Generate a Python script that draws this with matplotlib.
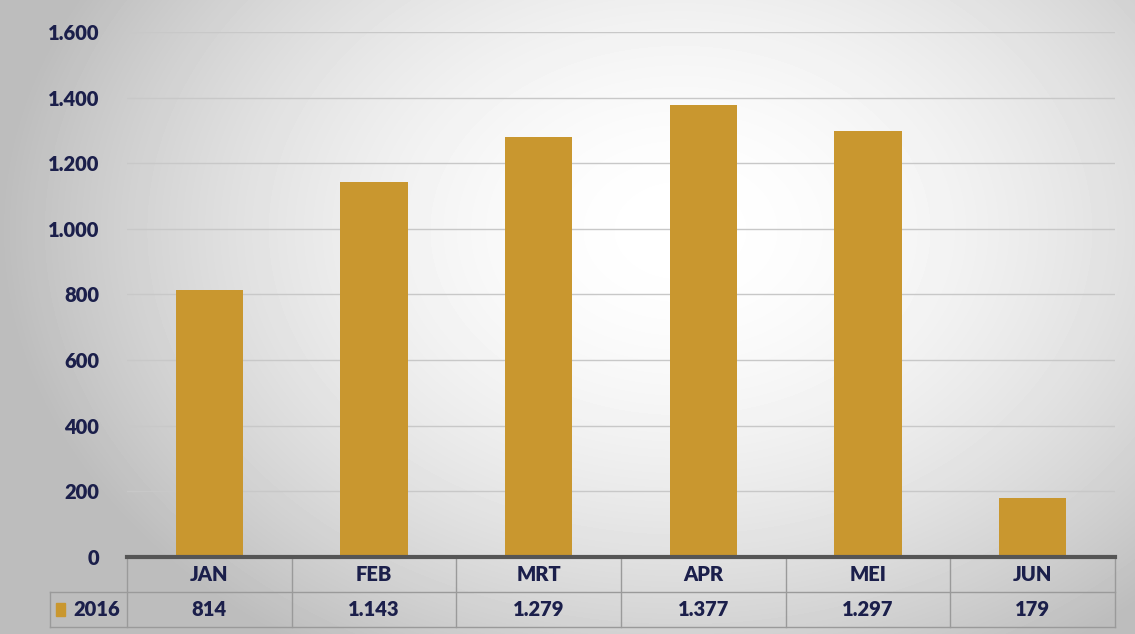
import numpy as np
import matplotlib.pyplot as plt
from matplotlib.patches import Rectangle

months = ['JAN', 'FEB', 'MRT', 'APR', 'MEI', 'JUN']
values_2016 = [814, 1143, 1279, 1377, 1297, 179]
series_name = '2016'
y_ticks = [0, 200, 400, 600, 800, 1000, 1200, 1400, 1600]

bar_color = '#C9972F'
text_color = '#1B1F4B'
plt.rcParams['font.family'] = ['Lato', 'DejaVu Sans']
fs = 14.5
fw = 'heavy'


def dutch(v):
    return f'{v:,}'.replace(',', '.')


fig = plt.figure(figsize=(11.35, 6.34), dpi=100)

# soft radial background, white in the middle, grey toward the edges
bg = fig.add_axes([0, 0, 1, 1], zorder=-10)
yy, xx = np.mgrid[0:634, 0:1135]
r = np.sqrt(((xx - 680) / 650.0) ** 2 + ((yy - 230) / 480.0) ** 2)
shade = np.clip(1.0 - 0.24 * r ** 1.8, 0.74, 1.0)
bg.imshow(shade, cmap='gray', vmin=0, vmax=1, aspect='auto')
bg.axis('off')

ax = fig.add_axes([0.1119, 0.1215, 0.8705, 0.828])
ax.patch.set_alpha(0)
x = np.arange(len(months))
ax.bar(x, values_2016, width=0.41, color=bar_color, zorder=3)
ax.set_xlim(-0.5, len(months) - 0.5)
ax.set_ylim(0, 1600)
ax.set_yticks(y_ticks)
ax.set_yticklabels([dutch(t) for t in y_ticks], fontsize=fs,
                   fontweight=fw, color=text_color)
ax.tick_params(axis='y', length=0, pad=20)
ax.set_xticks([])
ax.grid(axis='y', color='#c8c8c8', linewidth=1, zorder=0)
for s in ['top', 'right', 'left']:
    ax.spines[s].set_visible(False)
ax.spines['bottom'].set_color('#555555')
ax.spines['bottom'].set_linewidth(3)
ax.spines['bottom'].set_zorder(5)

# data table below the axis
tr = ax.get_xaxis_transform()
row_h = 35 / 525.0
leg_left = -0.5 - 77 / 164.7
line_kw = dict(transform=tr, color='#9a9a9a', linewidth=1, clip_on=False)

for b in np.arange(-0.5, len(months), 1.0):
    ax.plot([b, b], [0, -2 * row_h], **line_kw)
ax.plot([leg_left, len(months) - 0.5], [-row_h, -row_h], **line_kw)
ax.plot([leg_left, len(months) - 0.5], [-2 * row_h, -2 * row_h], **line_kw)
ax.plot([leg_left, leg_left], [-row_h, -2 * row_h], **line_kw)

for i, m in enumerate(months):
    ax.text(i, -0.5 * row_h, m, transform=tr, ha='center', va='center',
            fontsize=fs, fontweight=fw, color=text_color)
    ax.text(i, -1.5 * row_h, dutch(values_2016[i]), transform=tr,
            ha='center', va='center', fontsize=fs, fontweight=fw,
            color=text_color)

ax.add_patch(Rectangle((leg_left + 0.035, -1.5 * row_h - 0.013), 0.055, 0.026,
                       transform=tr, color=bar_color, clip_on=False))
ax.text(-0.5 - 0.04, -1.5 * row_h, series_name, transform=tr, ha='right',
        va='center', fontsize=fs, fontweight=fw, color=text_color)

fig.savefig('out.png', dpi=100)
